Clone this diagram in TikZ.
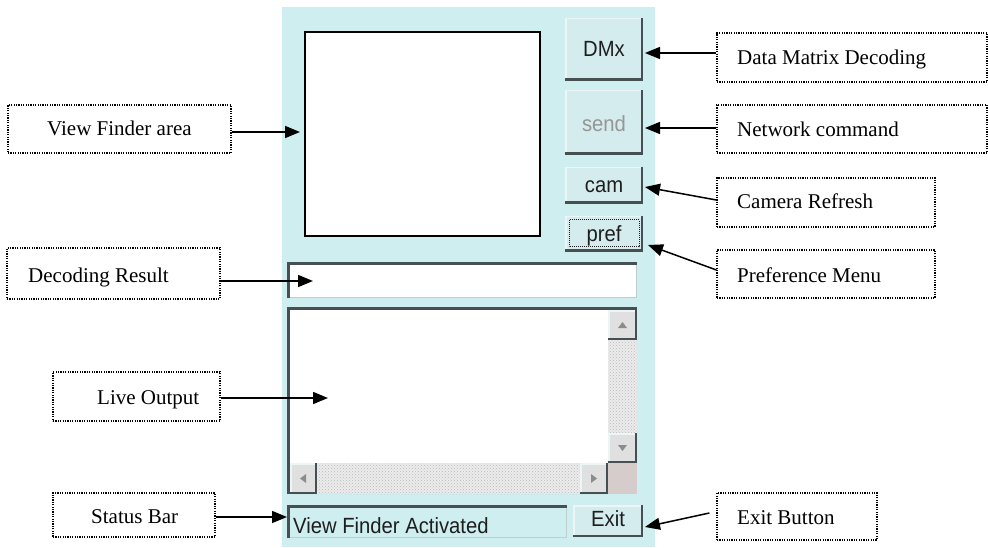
\documentclass[tikz,border=0pt]{standalone}
\usepackage{fontspec}
\setmainfont{Liberation Serif}
\setsansfont{Liberation Sans}
\newfontfamily\guifnt[FakeStretch=0.92]{Liberation Sans}
\usetikzlibrary{arrows.meta,patterns,calc}
\definecolor{panelc}{RGB}{206,238,240}
\definecolor{btnface}{RGB}{212,236,238}
\definecolor{shadowc}{RGB}{70,80,82}
\definecolor{lightc}{RGB}{236,246,247}
\definecolor{edgec}{RGB}{190,205,206}
\definecolor{scrollface}{RGB}{224,224,224}
\definecolor{trackc}{RGB}{236,236,236}
\definecolor{cornerc}{RGB}{214,204,204}
\definecolor{guitext}{RGB}{30,30,30}
\definecolor{graytext}{RGB}{150,150,150}
\definecolor{arrowg}{RGB}{140,140,140}

\newcommand{\raisedbox}[5]{%
  \fill[#5] (#1,#2) rectangle (#3,#4);
  \draw[lightc, line width=1.5pt] (#1+0.75,#4) -- (#1+0.75,#2+0.75) -- (#3,#2+0.75);
  \draw[shadowc, line width=2.5pt] (#1,#4-1.25) -- (#3-1.25,#4-1.25) -- (#3-1.25,#2);
}
\newcommand{\sunkenbox}[5]{%
  \fill[#5] (#1,#2) rectangle (#3,#4);
  \draw[edgec, line width=1.5pt] (#1,#4-0.75) -- (#3-0.75,#4-0.75) -- (#3-0.75,#2);
  \draw[shadowc, line width=3pt] (#1+1.5,#4) -- (#1+1.5,#2+1.5) -- (#3,#2+1.5);
}

\tikzset{
  lbl/.style={draw, line width=1.2pt, dash pattern=on 1.2pt off 1.2pt, inner sep=0pt},
  lbltext/.style={font=\fontsize{21}{25}\selectfont, inner sep=0pt, anchor=base west},
  arr/.style={line width=1.5pt, -{Triangle[length=15pt,width=12pt]}},
  guifont/.style={font=\guifnt\fontsize{22}{26}\selectfont, text=guitext, inner sep=0pt, anchor=base},
}

\begin{document}
\begin{tikzpicture}[x=1pt,y=-1pt]
\useasboundingbox (0,0) rectangle (988,548);
\fill[white] (0,0) rectangle (988,548);

% ---------- GUI panel ----------
\fill[panelc] (282,7) rectangle (655,547);
\draw[black, line width=2pt, fill=white] (305,32) rectangle (540,236);

\raisedbox{565}{18}{643}{81}{btnface}
\raisedbox{565}{90}{643}{155}{btnface}
\raisedbox{565}{167}{643}{204}{btnface}
\raisedbox{565}{216}{643}{252}{btnface}
\raisedbox{573}{505}{643}{537}{btnface}
\draw[guitext, line width=1pt, dash pattern=on 1pt off 1pt] (569,220) rectangle (639,247);

\node[guifont] (tdmx) at (604,57) {DMx};
\node[guifont, text=graytext] (tsend) at (604,132) {send};
\node[guifont] (tcam) at (604,193) {cam};
\node[guifont] (tpref) at (604,242) {pref};
\node[guifont] (texit) at (608,526) {Exit};

% decoding result field
\sunkenbox{287}{262}{637}{298}{white}
% live output
\sunkenbox{287}{307}{637}{494}{white}
% scrollbars
\fill[trackc] (608,310) rectangle (637,463);
\fill[trackc] (290,463) rectangle (608,494);
\fill[pattern=crosshatch dots, pattern color=gray!55] (608,310) rectangle (637,463);
\fill[pattern=crosshatch dots, pattern color=gray!55] (290,463) rectangle (608,494);
\fill[cornerc] (608,463) rectangle (637,494);
\raisedbox{608}{310}{637}{340}{scrollface}
\raisedbox{608}{433}{637}{463}{scrollface}
\raisedbox{290}{463}{317}{494}{scrollface}
\raisedbox{580}{463}{608}{494}{scrollface}
\fill[arrowg] (618,328) -- (627,328) -- (622.5,322) -- cycle;
\fill[arrowg] (618,445) -- (627,445) -- (622.5,451) -- cycle;
\fill[arrowg] (306,474) -- (306,483) -- (300,478.5) -- cycle;
\fill[arrowg] (591,474) -- (591,483) -- (597,478.5) -- cycle;
% status bar
\sunkenbox{287}{505}{567}{538}{panelc}
\node[guifont, anchor=base west] (tstatus) at (293,533) {View Finder Activated};

% ---------- labels ----------
\node[lbl, minimum width=223pt, minimum height=48pt] (vf) at (119.5,129) {};
\node[lbltext] (vftext) at (47,136) {View Finder area};
\node[lbl, minimum width=270pt, minimum height=49pt] (dm) at (852,57.5) {};
\node[lbltext] (dmtext) at (737,65) {Data Matrix Decoding};
\node[lbl, minimum width=270pt, minimum height=48pt] (nc) at (852,129) {};
\node[lbltext] (nctext) at (737,137) {Network command};
\node[lbl, minimum width=218pt, minimum height=49pt] (cr) at (826,202.5) {};
\node[lbltext] (crtext) at (737,209) {Camera Refresh};
\node[lbl, minimum width=218pt, minimum height=48pt] (pm) at (826,274) {};
\node[lbltext] (pmtext) at (737,282) {Preference Menu};
\node[lbl, minimum width=213pt, minimum height=51pt] (dr) at (113.5,273.5) {};
\node[lbltext] (drtext) at (28,282) {Decoding Result};
\node[lbl, minimum width=167pt, minimum height=49pt] (lo) at (136.5,396.5) {};
\node[lbltext] (lotext) at (97,404) {Live Output};
\node[lbl, minimum width=162pt, minimum height=44pt] (sb) at (134,515) {};
\node[lbltext] (sbtext) at (91,523) {Status Bar};
\node[lbl, minimum width=160pt, minimum height=47pt] (eb) at (797,516.5) {};
\node[lbltext] (ebtext) at (737,524) {Exit Button};

% ---------- arrows ----------
\coordinate (tvf) at (300,132);
\coordinate (tdm) at (645,53);
\coordinate (tnc) at (645,128);
\coordinate (tcr) at (645,187);
\coordinate (tpm) at (648,245);
\coordinate (tdr) at (313,281);
\coordinate (tlo) at (328,398);
\coordinate (tsb) at (287,517);
\coordinate (teb) at (645,527);

\draw[arr] (vf.east |- tvf) -- (tvf);
\draw[arr] (dm.west |- tdm) -- (tdm);
\draw[arr] (nc.west |- tnc) -- (tnc);
\draw[arr] ($(cr.west)+(0,-2.5)$) -- (tcr);
\draw[arr] ($(pm.west)+(0,-4)$) -- (tpm);
\draw[arr] (dr.east |- tdr) -- (tdr);
\draw[arr] (lo.east |- tlo) -- (tlo);
\draw[arr] (sb.east |- tsb) -- (tsb);
\draw[arr] ($(eb.west)+(-7,-3.5)$) -- (teb);
\end{tikzpicture}
\end{document}
